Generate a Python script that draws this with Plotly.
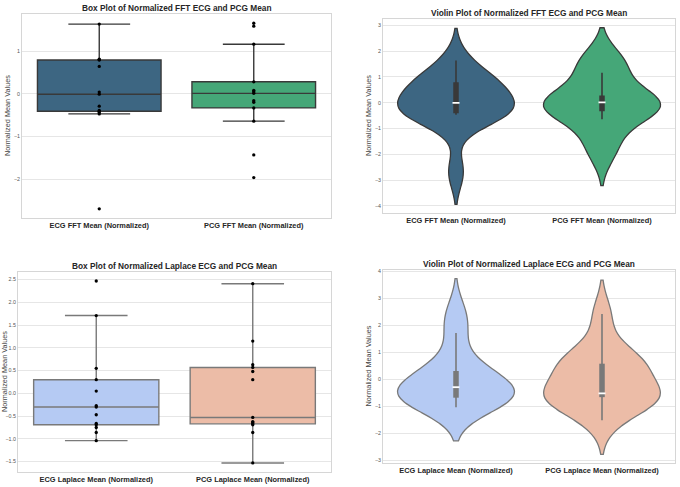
import numpy as np
import plotly.graph_objects as go

W, H = 680, 487

# ---------------- data ----------------
fft_labels = ["ECG FFT Mean (Normalized)", "PCG FFT Mean (Normalized)"]
lap_labels = ["ECG Laplace Mean (Normalized)", "PCG Laplace Mean (Normalized)"]

ecg_fft = [1.63, 0.81, 0.80, 0.79, 0.64, 0.04, -0.01, -0.29, -0.39, -0.41, -0.44, -0.47, -2.69]
pcg_fft = [1.65, 1.58, 1.16, 0.28, 0.08, 0.05, 0.01, -0.16, -0.20, -0.33, -0.64, -1.43, -1.96]
ecg_lap = [2.47, 1.71, 0.55, 0.30, 0.05, -0.27, -0.30, -0.47, -0.66, -0.69, -0.75, -0.86, -1.04]
pcg_lap = [2.41, 1.15, 0.63, 0.57, 0.48, 0.30, -0.53, -0.62, -0.64, -0.67, -0.69, -0.86, -1.53]

titles = [
    "Box Plot of Normalized FFT ECG and PCG Mean",
    "Violin Plot of Normalized FFT ECG and PCG Mean",
    "Box Plot of Normalized Laplace ECG and PCG Mean",
    "Violin Plot of Normalized Laplace ECG and PCG Mean",
]
y_title = "Normalized Mean Values"

# ---------------- styles ----------------
viridis_cols = ["#3d6682", "#45a778"]
coolwarm_cols = ["#b5caf3", "#ecbca7"]
dark_line = "#393939"
gray_line = "#797979"
FONT = "Liberation Sans, Arial, sans-serif"
TXT = "#262626"

# axes rectangles in pixels: (left, right, top, bottom)
rects = [
    (22, 331, 12, 217),
    (383, 675, 17, 212),
    (18, 331, 271, 472),
    (383, 675, 269, 463),
]
ytitle_x = [7, 368, 5, 368]


def px_x(p):
    return p / W


def px_y(p):
    return 1 - p / H


def box_stats(v):
    v = np.sort(np.asarray(v, float))
    q1, med, q3 = np.percentile(v, [25, 50, 75])
    iqr = q3 - q1
    lo = v[v >= q1 - 1.5 * iqr].min()
    hi = v[v <= q3 + 1.5 * iqr].max()
    return q1, med, q3, lo, hi


def scott_bw(v):
    v = np.asarray(v, float)
    return np.std(v, ddof=1) * len(v) ** (-1 / 5)


fig = go.Figure()

panels = [
    ("box", [ecg_fft, pcg_fft], fft_labels, viridis_cols, dark_line),
    ("violin", [ecg_fft, pcg_fft], fft_labels, viridis_cols, dark_line),
    ("box", [ecg_lap, pcg_lap], lap_labels, coolwarm_cols, gray_line),
    ("violin", [ecg_lap, pcg_lap], lap_labels, coolwarm_cols, gray_line),
]

layout_axes = {}
annotations = []

for i, (kind, groups, labels, cols, lc) in enumerate(panels):
    k = "" if i == 0 else str(i + 1)
    xa, ya = "x" + k, "y" + k
    lo_all, hi_all = [], []
    for pos, (vals, col) in enumerate(zip(groups, cols)):
        q1, med, q3, wlo, whi = box_stats(vals)
        if kind == "box":
            fig.add_trace(go.Box(
                x=[pos], q1=[q1], median=[med], q3=[q3],
                lowerfence=[wlo], upperfence=[whi], orientation="v",
                width=0.8, whiskerwidth=0.5, fillcolor=col,
                line=dict(color=lc, width=1.4), boxpoints=False,
                xaxis=xa, yaxis=ya, showlegend=False, hoverinfo="skip"))
            fig.add_trace(go.Scatter(
                x=[pos] * len(vals), y=vals, mode="markers",
                marker=dict(color="black", size=3.3),
                xaxis=xa, yaxis=ya, showlegend=False, hoverinfo="skip"))
            lo_all.append(min(vals))
            hi_all.append(max(vals))
        else:
            bw = scott_bw(vals)
            fig.add_trace(go.Violin(
                x=[pos] * len(vals), y=vals, width=0.8, scalemode="width",
                spanmode="soft", bandwidth=bw, fillcolor=col,
                line=dict(color=lc, width=1.3), points=False,
                box_visible=False, meanline_visible=False, opacity=1,
                xaxis=xa, yaxis=ya, showlegend=False, hoverinfo="skip"))
            # inner box (seaborn style)
            fig.add_trace(go.Scatter(
                x=[pos, pos], y=[wlo, whi], mode="lines",
                line=dict(color=lc, width=1.6),
                xaxis=xa, yaxis=ya, showlegend=False, hoverinfo="skip"))
            fig.add_trace(go.Scatter(
                x=[pos, pos], y=[q1, q3], mode="lines",
                line=dict(color=lc, width=5.5),
                xaxis=xa, yaxis=ya, showlegend=False, hoverinfo="skip"))
            fig.add_trace(go.Scatter(
                x=[pos], y=[med], mode="markers",
                marker=dict(symbol="line-ew", size=5,
                            line=dict(color="white", width=1.8)),
                xaxis=xa, yaxis=ya, showlegend=False, hoverinfo="skip"))
            lo_all.append(min(vals) - 2 * bw)
            hi_all.append(max(vals) + 2 * bw)
    lo, hi = min(lo_all), max(hi_all)
    pad = 0.05 * (hi - lo)
    yr = [lo - pad, hi + pad]

    l, r, t, b = rects[i]
    xkey = "xaxis" + k
    ykey = "yaxis" + k
    layout_axes[xkey] = dict(
        domain=[px_x(l), px_x(r)], anchor=ya, range=[-0.5, 1.5],
        tickvals=[0, 1], ticktext=labels, showgrid=False, zeroline=False,
        showline=True, mirror=True, linecolor="#d6d6d6", linewidth=1,
        ticks="", tickfont=dict(family=FONT, size=7.4, color=TXT, weight="bold"),
        fixedrange=True)
    ydict = dict(
        domain=[px_y(b), px_y(t)], anchor=xa, range=yr,
        showgrid=True, gridcolor="#e6e6e6", gridwidth=1, zeroline=False,
        showline=True, mirror=True, linecolor="#d6d6d6", linewidth=1,
        ticks="", tickfont=dict(family=FONT, size=5.3, color="#555555"),
        fixedrange=True)
    if i == 2:
        ydict.update(dtick=0.5, tick0=0, tickformat=".1f")
    else:
        ydict.update(dtick=1, tick0=0)
    layout_axes[ykey] = ydict

    annotations.append(dict(
        text="<b>" + titles[i] + "</b>", xref="paper", yref="paper",
        x=px_x((l + r) / 2), y=px_y(t - 5.5), xanchor="center", yanchor="middle",
        showarrow=False, font=dict(family=FONT, size=8.3, color=TXT)))
    annotations.append(dict(
        text=y_title, xref="paper", yref="paper", textangle=-90,
        x=px_x(ytitle_x[i]), y=px_y((t + b) / 2), xanchor="center", yanchor="middle",
        showarrow=False, font=dict(family=FONT, size=7.3, color="#444444")))

fig.update_layout(
    width=W, height=H, margin=dict(l=0, r=0, t=0, b=0),
    paper_bgcolor="white", plot_bgcolor="white",
    boxmode="overlay", violinmode="overlay",
    annotations=annotations, showlegend=False,
    **layout_axes)

fig.write_html(
    "out.html", config={"displayModeBar": False},
    post_script="document.body.style.margin='0px';document.body.style.padding='0px';")
